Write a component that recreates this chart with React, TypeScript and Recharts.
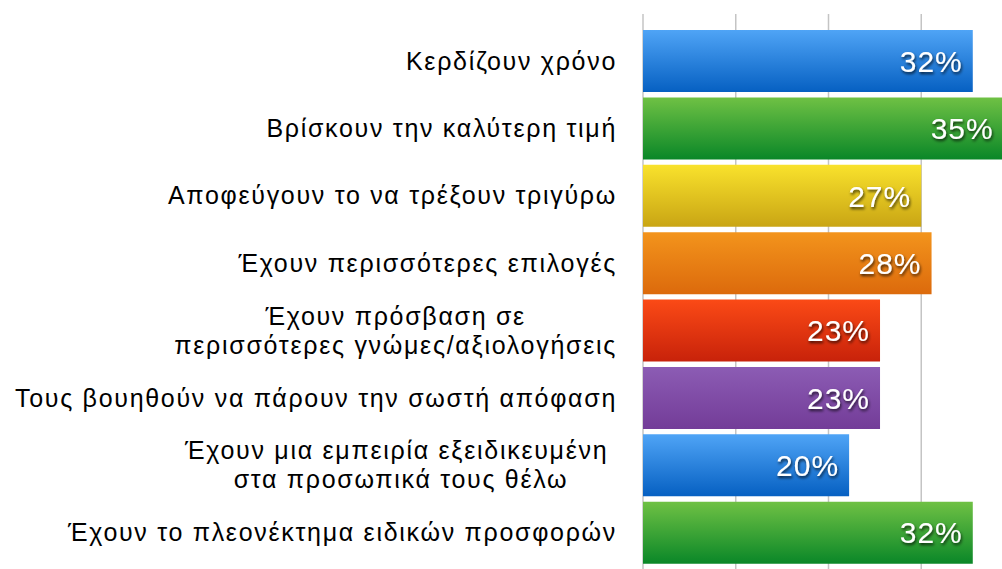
import { BarChart, Bar, XAxis, YAxis, CartesianGrid, Cell, LabelList } from 'recharts';

const categories = [
  'Κερδίζουν χρόνο',
  'Βρίσκουν την καλύτερη τιμή',
  'Αποφεύγουν το να τρέξουν τριγύρω',
  'Έχουν περισσότερες επιλογές',
  'Έχουν πρόσβαση σε\nπερισσότερες γνώμες/αξιολογήσεις',
  'Τους βουηθούν να πάρουν την σωστή απόφαση',
  'Έχουν μια εμπειρία εξειδικευμένη \nστα προσωπικά τους θέλω',
  'Έχουν το πλεονέκτημα ειδικών προσφορών',
];

const values = [32, 35, 27, 28, 23, 23, 20, 32];

const xTicks = [0, 9, 18, 27, 36];

// gradient top / bottom per bar
const topColors = ['#4fa4f6', '#6fc144', '#f9e22c', '#f3941c', '#fb4a16', '#8c5cb4', '#4fa4f6', '#6fc144'];
const bottomColors = ['#0660c2', '#0a8728', '#c9a514', '#dc6a0c', '#c8220a', '#733c98', '#0660c2', '#0a8728'];

const data = categories.map((name, i) => ({ name, value: values[i] }));

const FONT = '"Liberation Sans", Arial, sans-serif';
const TICK_SIZE = 25;
const TICK_SPACING = 1.7;

let ctx: CanvasRenderingContext2D | null = null;
const measure = (s: string) => {
  if (!ctx) ctx = document.createElement('canvas').getContext('2d');
  if (!ctx) return s.length * 13;
  ctx.font = `${TICK_SIZE}px ${FONT}`;
  return ctx.measureText(s).width + s.length * TICK_SPACING;
};

const CategoryTick = (props: any) => {
  const { x, y, payload } = props;
  const lines: string[] = String(payload.value).split('\n');
  if (lines.length === 1) {
    return (
      <text
        x={x}
        y={y}
        dy='0.36em'
        textAnchor='end'
        fontSize={TICK_SIZE}
        fontFamily={FONT}
        letterSpacing={TICK_SPACING}
        fill='#000'
      >
        {lines[0]}
      </text>
    );
  }
  const w = Math.max(...lines.map(measure));
  const lh = 29;
  const y0 = y - ((lines.length - 1) * lh) / 2;
  return (
    <text
      x={x - w / 2}
      y={y0}
      textAnchor='middle'
      fontSize={TICK_SIZE}
      fontFamily={FONT}
      letterSpacing={TICK_SPACING}
      fill='#000'
    >
      {lines.map((l, i) => (
        <tspan key={i} x={x - w / 2} y={y0 + i * lh} dy='0.36em'>
          {l}
        </tspan>
      ))}
    </text>
  );
};

const ValueLabel = (props: any) => {
  const { x, y, width, height, value } = props;
  return (
    <text
      x={x + width - 10}
      y={y + height / 2}
      dy='0.36em'
      textAnchor='end'
      fontSize={30}
      fontFamily={FONT}
      letterSpacing={1}
      fill='#fff'
      filter='url(#labelShadow)'
    >
      {value}%
    </text>
  );
};

const App = () => {
  return (
    <div
      style={{
        position: 'absolute',
        left: 0,
        top: 0,
        width: 1002,
        height: 569,
        overflow: 'hidden',
        background: '#fff',
      }}
    >
      <BarChart
        width={1014}
        height={600}
        data={data}
        layout='vertical'
        margin={{ top: 14, right: 0, bottom: 20, left: 0 }}
      >
        <defs>
          {topColors.map((c, i) => (
            <linearGradient key={i} id={`grad${i}`} x1='0' y1='0' x2='0' y2='1'>
              <stop offset='0%' stopColor={c} />
              <stop offset='100%' stopColor={bottomColors[i]} />
            </linearGradient>
          ))}
          <filter id='labelShadow' x='-20%' y='-30%' width='140%' height='160%'>
            <feDropShadow dx='1' dy='2' stdDeviation='1.5' floodColor='#000' floodOpacity='0.75' />
          </filter>
        </defs>
        <CartesianGrid horizontal={false} stroke='#c4c4c4' strokeWidth={1.5} />
        <XAxis type='number' domain={[0, 36]} ticks={xTicks} hide />
        <YAxis
          type='category'
          dataKey='name'
          width={643}
          axisLine={false}
          tickLine={false}
          tickSize={0}
          tickMargin={26}
          interval={0}
          padding={{ top: 13, bottom: 14 }}
          tick={<CategoryTick />}
        />
        <Bar dataKey='value' barSize={62} isAnimationActive={false}>
          {data.map((_, i) => (
            <Cell key={i} fill={`url(#grad${i})`} />
          ))}
          <LabelList dataKey='value' content={<ValueLabel />} />
        </Bar>
      </BarChart>
    </div>
  );
};

export default App;
